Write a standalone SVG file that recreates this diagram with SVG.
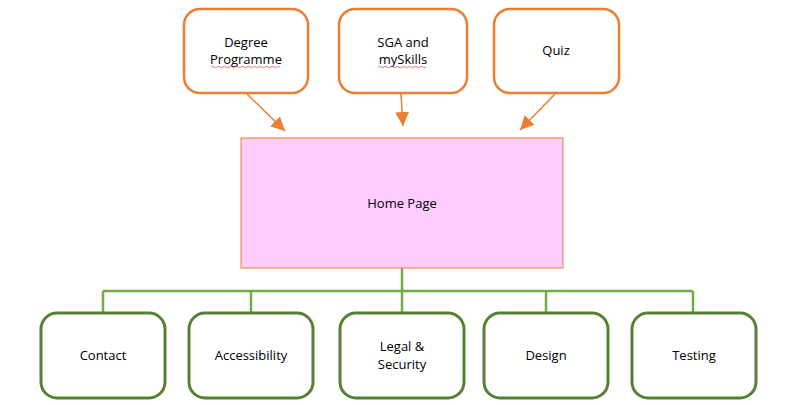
<svg xmlns="http://www.w3.org/2000/svg" width="800" height="405" viewBox="0 0 800 405">
<style>
.top rect{fill:#fff;stroke:#ED7D31;stroke-width:2.5}
.bot rect{fill:#fff;stroke:#548235;stroke-width:3}
text{font-family:"Open Sans","Liberation Sans",sans-serif;font-size:13px;fill:#000;text-anchor:middle}
.arr{stroke:#ED7D31;stroke-width:1.5;fill:none}
.tree{stroke:#70AD47;stroke-width:2.5;fill:none}
.sq{stroke:#E05050;stroke-width:0.8;fill:none}
</style>
<defs>
<marker id="ah" viewBox="0 0 10 10" refX="9" refY="5" markerWidth="5" markerHeight="5" orient="auto" markerUnits="userSpaceOnUse" >
<path d="M0,0 L10,5 L0,10 z" fill="#ED7D31"/>
</marker>
<marker id="ah2" viewBox="0 0 10 10" refX="10" refY="5" markerWidth="14" markerHeight="14" orient="auto" markerUnits="userSpaceOnUse">
<path d="M0,0 L10,5 L0,10 z" fill="#ED7D31"/>
</marker>
</defs>
<rect width="800" height="405" fill="#fff"/>
<g id="connectors">
<path class="arr" d="M247,94 L285,131" marker-end="url(#ah2)"/>
<path class="arr" d="M401,94 L403,126" marker-end="url(#ah2)"/>
<path class="arr" d="M555,94 L520,130" marker-end="url(#ah2)"/>
<path class="tree" d="M402,268 V312 M103,291 H693 M103,291 V312 M251,291 V312 M546,291 V312 M693,291 V312"/>
</g>
<g id="degree" class="top">
<rect x="184" y="9" width="124" height="84" rx="16"/>
<text x="246" y="47">Degree</text>
<text x="246" y="64">Programme</text>
<path class="sq" d="M211,67 q1.5,-1.5 3,0 t3,0 t3,0 t3,0 t3,0 t3,0 t3,0 t3,0 t3,0 t3,0 t3,0 t3,0 t3,0 t3,0 t3,0 t3,0 t3,0 t3,0 t3,0 t3,0 t3,0 t3,0 t3,0"/>
</g>
<g id="sga" class="top">
<rect x="339" y="9" width="128" height="84" rx="16"/>
<text x="403" y="47">SGA and</text>
<text x="403" y="64">mySkills</text>
<path class="sq" d="M378,67 q1.5,-1.5 3,0 t3,0 t3,0 t3,0 t3,0 t3,0 t3,0 t3,0 t3,0 t3,0 t3,0 t3,0 t3,0 t3,0 t3,0 t3,0"/>
</g>
<g id="quiz" class="top">
<rect x="494" y="9" width="125" height="84" rx="16"/>
<text x="556" y="55">Quiz</text>
</g>
<g id="home">
<rect x="241" y="138" width="322" height="130" fill="#FFCCFF" stroke="#ED7D31" stroke-width="1"/>
<text x="402" y="208">Home Page</text>
</g>
<g id="contact" class="bot">
<rect x="41" y="313" width="124" height="85" rx="16"/>
<text x="103" y="360">Contact</text>
</g>
<g id="accessibility" class="bot">
<rect x="189" y="313" width="124" height="85" rx="16"/>
<text x="251" y="360">Accessibility</text>
</g>
<g id="legal" class="bot">
<rect x="340" y="313" width="124" height="85" rx="16"/>
<text x="402" y="351">Legal &amp;</text>
<text x="402" y="369">Security</text>
</g>
<g id="design" class="bot">
<rect x="484" y="313" width="124" height="85" rx="16"/>
<text x="546" y="360">Design</text>
</g>
<g id="testing" class="bot">
<rect x="632" y="313" width="124" height="85" rx="16"/>
<text x="694" y="360">Testing</text>
</g>
</svg>
